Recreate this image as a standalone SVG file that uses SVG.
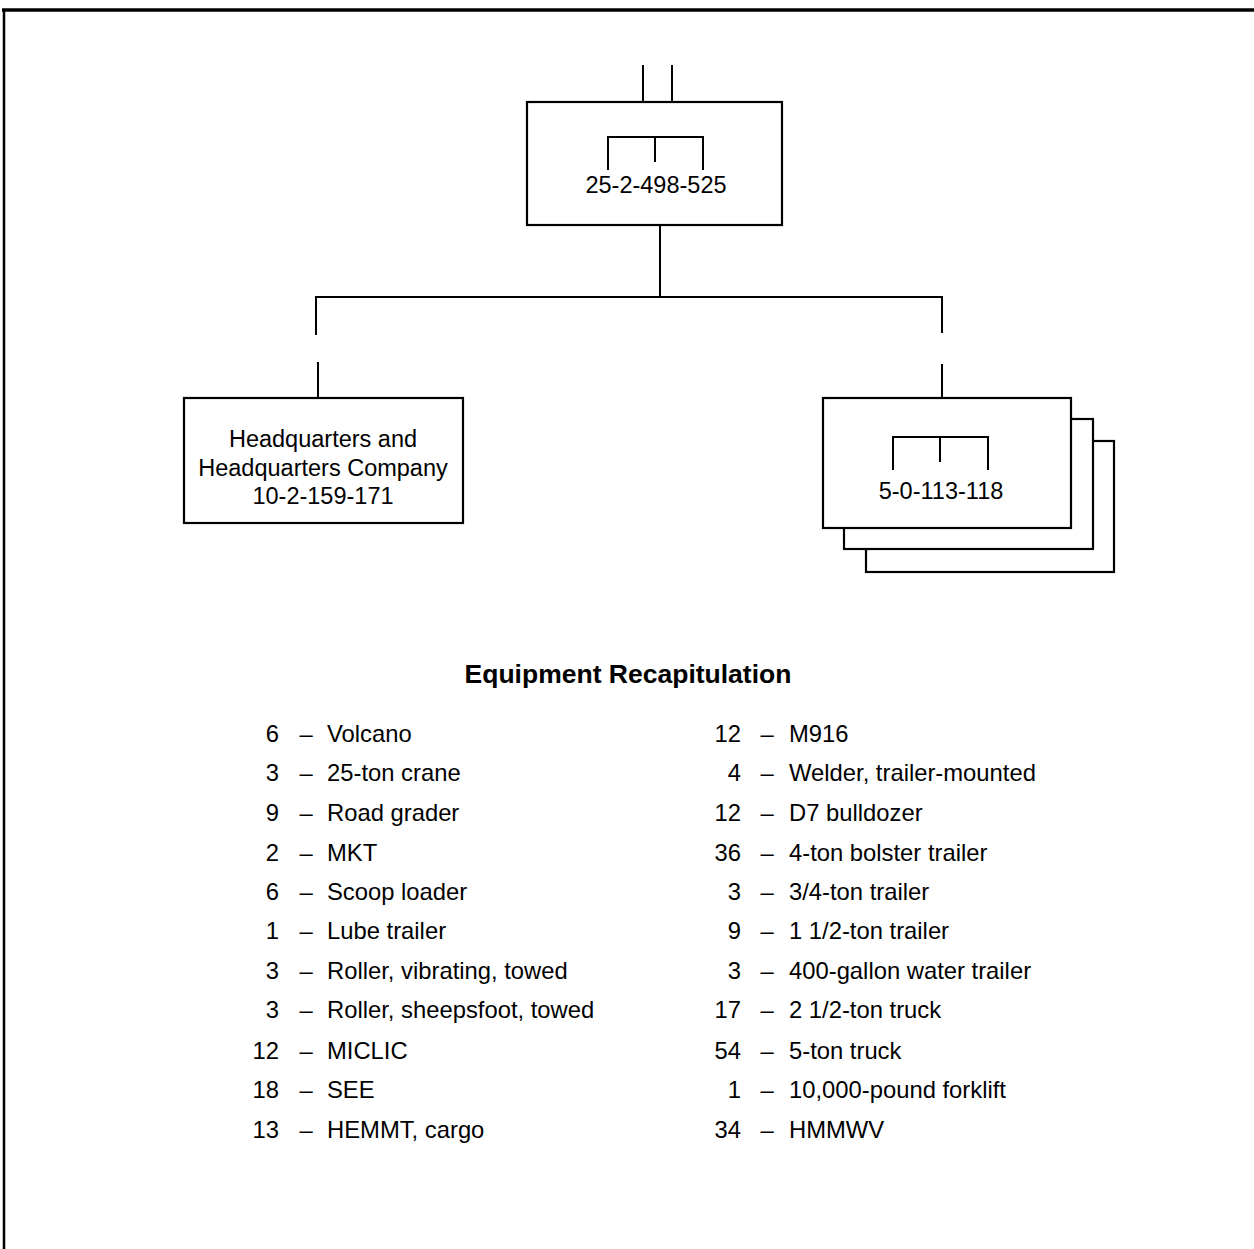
<svg xmlns="http://www.w3.org/2000/svg" width="1254" height="1249" viewBox="0 0 1254 1249">
  <style>
    .ln { stroke: #000; stroke-width: 2; fill: none; stroke-linecap: butt; }
    .box { stroke: #000; stroke-width: 2.2; fill: #fff; }
    .frame { stroke: #000; fill: none; }
    text { font-family: "Liberation Sans", Arial, Helvetica, sans-serif; fill: #000; }
    .lbl { font-size: 23.5px; text-anchor: middle; }
    .title { font-size: 26.5px; font-weight: bold; text-anchor: middle; }
    .num { font-size: 23.8px; text-anchor: end; }
    .dash { font-size: 23.8px; text-anchor: middle; }
    .item { font-size: 23.8px; text-anchor: start; }
  </style>

  <rect width="1254" height="1249" fill="#fff"/>

  <!-- page frame (top and left rules) -->
  <line class="frame" x1="2" y1="10" x2="1254" y2="10" stroke-width="3.5"/>
  <line class="frame" x1="4" y1="9" x2="4" y2="1249" stroke-width="2.5"/>

  <!-- connectors -->
  <g id="connectors">
    <line class="ln" x1="643" y1="65" x2="643" y2="102"/>
    <line class="ln" x1="672" y1="65" x2="672" y2="102"/>
    <line class="ln" x1="660" y1="225" x2="660" y2="297"/>
    <line class="ln" x1="315" y1="297" x2="943" y2="297"/>
    <line class="ln" x1="316" y1="296" x2="316" y2="335"/>
    <line class="ln" x1="318" y1="362" x2="318" y2="398"/>
    <line class="ln" x1="942" y1="296" x2="942" y2="333"/>
    <line class="ln" x1="942" y1="364" x2="942" y2="398"/>
  </g>

  <!-- battalion -->
  <g id="node-battalion">
    <rect class="box" x="527" y="102" width="255" height="123"/>
    <path class="ln" d="M608,170 V137 H703 V170 M655,137 V162"/>
    <text class="lbl" x="656" y="193">25-2-498-525</text>
  </g>

  <!-- headquarters company -->
  <g id="node-hhc">
    <rect class="box" x="184" y="398" width="279" height="125"/>
    <text class="lbl" x="323" y="447">Headquarters and</text>
    <text class="lbl" x="323" y="476">Headquarters Company</text>
    <text class="lbl" x="323" y="504">10-2-159-171</text>
  </g>

  <!-- line companies (stacked x3) -->
  <g id="node-companies">
    <rect class="box" x="866" y="441" width="248" height="131"/>
    <rect class="box" x="844" y="419" width="249" height="130"/>
    <rect class="box" x="823" y="398" width="248" height="130"/>
    <path class="ln" d="M893,470 V437 H988 V470 M940,437 V462"/>
    <text class="lbl" x="941" y="499">5-0-113-118</text>
  </g>

  <!-- equipment recapitulation -->
  <g id="equipment">
    <text class="title" x="628" y="683">Equipment Recapitulation</text>

    <g id="equipment-left">
      <text class="num" x="279" y="742">6</text><text class="dash" x="306" y="742">–</text><text class="item" x="327" y="742">Volcano</text>
      <text class="num" x="279" y="781">3</text><text class="dash" x="306" y="781">–</text><text class="item" x="327" y="781">25-ton crane</text>
      <text class="num" x="279" y="821">9</text><text class="dash" x="306" y="821">–</text><text class="item" x="327" y="821">Road grader</text>
      <text class="num" x="279" y="861">2</text><text class="dash" x="306" y="861">–</text><text class="item" x="327" y="861">MKT</text>
      <text class="num" x="279" y="900">6</text><text class="dash" x="306" y="900">–</text><text class="item" x="327" y="900">Scoop loader</text>
      <text class="num" x="279" y="939">1</text><text class="dash" x="306" y="939">–</text><text class="item" x="327" y="939">Lube trailer</text>
      <text class="num" x="279" y="979">3</text><text class="dash" x="306" y="979">–</text><text class="item" x="327" y="979">Roller, vibrating, towed</text>
      <text class="num" x="279" y="1018">3</text><text class="dash" x="306" y="1018">–</text><text class="item" x="327" y="1018">Roller, sheepsfoot, towed</text>
      <text class="num" x="279" y="1059">12</text><text class="dash" x="306" y="1059">–</text><text class="item" x="327" y="1059">MICLIC</text>
      <text class="num" x="279" y="1098">18</text><text class="dash" x="306" y="1098">–</text><text class="item" x="327" y="1098">SEE</text>
      <text class="num" x="279" y="1138">13</text><text class="dash" x="306" y="1138">–</text><text class="item" x="327" y="1138">HEMMT, cargo</text>
    </g>

    <g id="equipment-right">
      <text class="num" x="741" y="742">12</text><text class="dash" x="767" y="742">–</text><text class="item" x="789" y="742">M916</text>
      <text class="num" x="741" y="781">4</text><text class="dash" x="767" y="781">–</text><text class="item" x="789" y="781">Welder, trailer-mounted</text>
      <text class="num" x="741" y="821">12</text><text class="dash" x="767" y="821">–</text><text class="item" x="789" y="821">D7 bulldozer</text>
      <text class="num" x="741" y="861">36</text><text class="dash" x="767" y="861">–</text><text class="item" x="789" y="861">4-ton bolster trailer</text>
      <text class="num" x="741" y="900">3</text><text class="dash" x="767" y="900">–</text><text class="item" x="789" y="900">3/4-ton trailer</text>
      <text class="num" x="741" y="939">9</text><text class="dash" x="767" y="939">–</text><text class="item" x="789" y="939">1 1/2-ton trailer</text>
      <text class="num" x="741" y="979">3</text><text class="dash" x="767" y="979">–</text><text class="item" x="789" y="979">400-gallon water trailer</text>
      <text class="num" x="741" y="1018">17</text><text class="dash" x="767" y="1018">–</text><text class="item" x="789" y="1018">2 1/2-ton truck</text>
      <text class="num" x="741" y="1059">54</text><text class="dash" x="767" y="1059">–</text><text class="item" x="789" y="1059">5-ton truck</text>
      <text class="num" x="741" y="1098">1</text><text class="dash" x="767" y="1098">–</text><text class="item" x="789" y="1098">10,000-pound forklift</text>
      <text class="num" x="741" y="1138">34</text><text class="dash" x="767" y="1138">–</text><text class="item" x="789" y="1138">HMMWV</text>
    </g>
  </g>
</svg>
